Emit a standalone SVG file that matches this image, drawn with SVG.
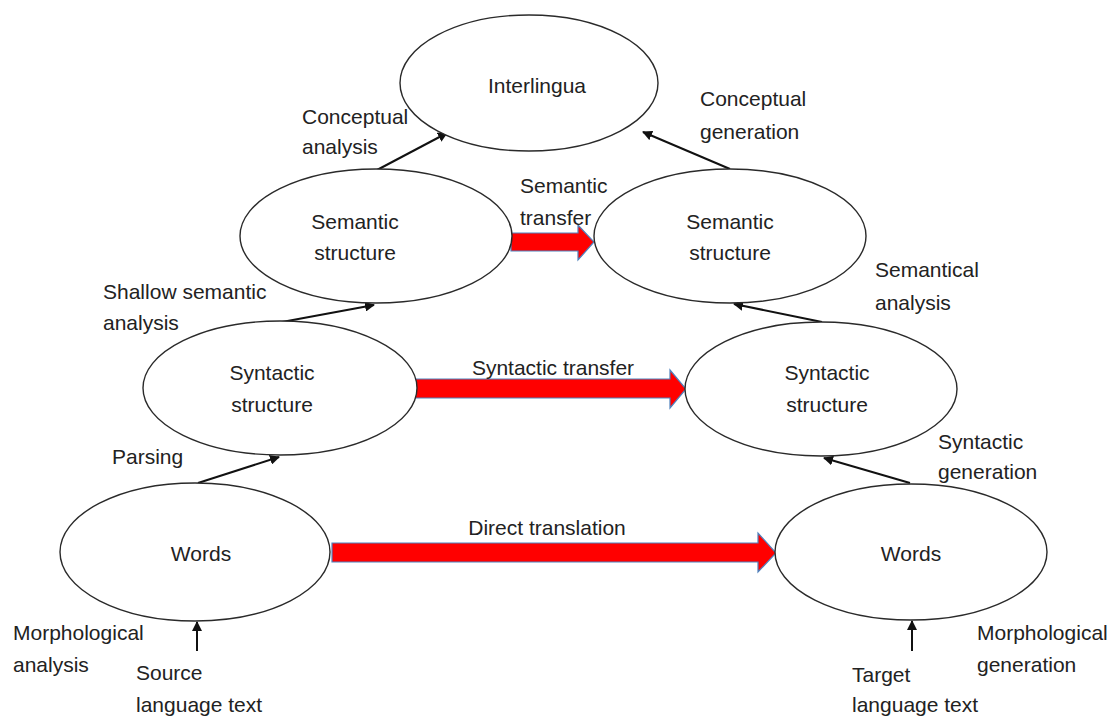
<svg xmlns="http://www.w3.org/2000/svg" width="1112" height="718" viewBox="0 0 1112 718">
<style>
.n{fill:#ffffff;stroke:#2a2a2a;stroke-width:1.4}
text{font-family:"Liberation Sans",Arial,sans-serif;font-size:21px;fill:#222222}
.c{text-anchor:middle}
.e{stroke:#111111;stroke-width:2;fill:none;marker-end:url(#ah)}
.big{fill:#ff0000;stroke:#4f81bd;stroke-width:1.2}
</style>
<defs>
<marker id="ah" viewBox="0 0 10 10" refX="9" refY="5" markerWidth="5" markerHeight="5" orient="auto" markerUnits="strokeWidth">
<path d="M0,0 L10,5 L0,10 z" fill="#111111"/>
</marker>
</defs>
<rect width="1112" height="718" fill="#ffffff"/>

<g id="connectors">
<line class="e" x1="377" y1="170" x2="447" y2="133"/>
<line class="e" x1="730" y1="169" x2="643" y2="132"/>
<line class="e" x1="282" y1="322" x2="374" y2="305"/>
<line class="e" x1="822" y1="322" x2="734" y2="304"/>
<line class="e" x1="198" y1="483" x2="279" y2="457"/>
<line class="e" x1="910" y1="483" x2="824" y2="458"/>
<line class="e" x1="197" y1="651" x2="197" y2="622"/>
<line class="e" x1="912" y1="651" x2="912" y2="621"/>
<path id="semantic-transfer-arrow" class="big" d="M511,233 H578 V225 L594,242 L578,260 V251 H511 Z"/>
<path id="syntactic-transfer-arrow" class="big" d="M415,379 H670 V370 L686,389 L670,408 V398 H415 Z"/>
<path id="direct-translation-arrow" class="big" d="M332,543 H758 V533 L776,553 L758,572 V562 H332 Z"/>
</g>

<g id="interlingua">
<ellipse class="n" cx="529" cy="83" rx="129" ry="68"/>
<text class="c" x="537" y="93">Interlingua</text>
</g>
<g id="semantic-source">
<ellipse class="n" cx="376" cy="236" rx="136" ry="67"/>
<text class="c" x="355" y="229">Semantic</text>
<text class="c" x="355" y="260">structure</text>
</g>
<g id="semantic-target">
<ellipse class="n" cx="730" cy="236" rx="136" ry="67"/>
<text class="c" x="730" y="229">Semantic</text>
<text class="c" x="730" y="260">structure</text>
</g>
<g id="syntactic-source">
<ellipse class="n" cx="280" cy="388" rx="137" ry="67"/>
<text class="c" x="272" y="380">Syntactic</text>
<text class="c" x="272" y="412">structure</text>
</g>
<g id="syntactic-target">
<ellipse class="n" cx="821" cy="389" rx="136" ry="67"/>
<text class="c" x="827" y="380">Syntactic</text>
<text class="c" x="827" y="412">structure</text>
</g>
<g id="words-source">
<ellipse class="n" cx="195" cy="552" rx="135" ry="69"/>
<text class="c" x="201" y="561">Words</text>
</g>
<g id="words-target">
<ellipse class="n" cx="911" cy="552" rx="136" ry="68"/>
<text class="c" x="911" y="561">Words</text>
</g>

<g id="labels">
<text x="302" y="124">Conceptual</text>
<text x="302" y="154">analysis</text>
<text x="700" y="106">Conceptual</text>
<text x="700" y="139">generation</text>
<text x="520" y="193">Semantic</text>
<text x="520" y="225">transfer</text>
<text x="103" y="299">Shallow semantic</text>
<text x="103" y="330">analysis</text>
<text x="875" y="277">Semantical</text>
<text x="875" y="310">analysis</text>
<text class="c" x="553" y="375">Syntactic transfer</text>
<text x="112" y="464">Parsing</text>
<text x="938" y="449">Syntactic</text>
<text x="938" y="479">generation</text>
<text class="c" x="547" y="535">Direct translation</text>
<text x="13" y="640">Morphological</text>
<text x="13" y="672">analysis</text>
<text x="136" y="680">Source</text>
<text x="136" y="712">language text</text>
<text x="977" y="640">Morphological</text>
<text x="977" y="672">generation</text>
<text x="852" y="682">Target</text>
<text x="852" y="712">language text</text>
</g>
</svg>
